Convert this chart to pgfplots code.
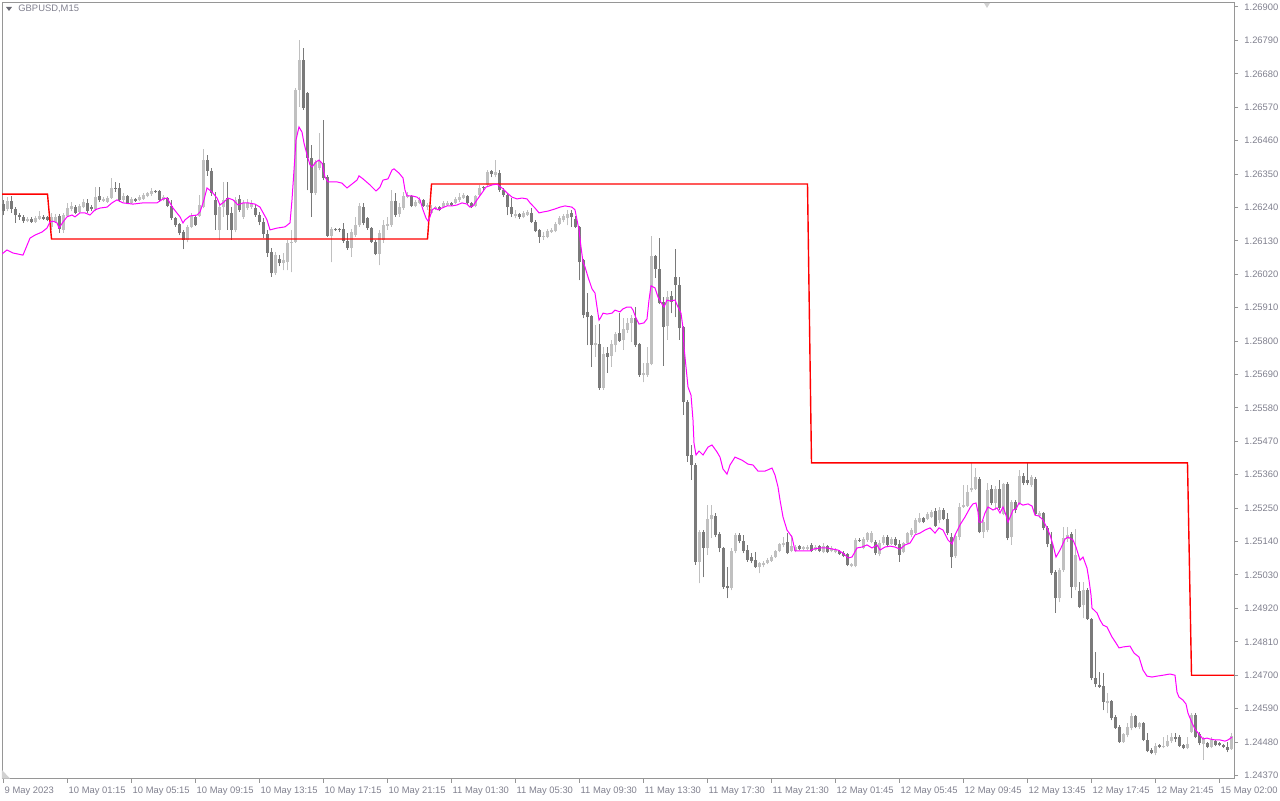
\documentclass[border=0pt]{standalone}
\usepackage{fontspec}
\setmainfont{Liberation Sans}
\usepackage{pgfplots}
\usepackage{pgfplotstable}
\pgfplotsset{compat=1.18}
\definecolor{bullc}{RGB}{192,192,192}
\definecolor{bearc}{RGB}{122,122,122}
\definecolor{axisc}{RGB}{150,150,150}
\definecolor{labc}{RGB}{128,128,142}
\definecolor{magc}{RGB}{255,0,255}
\definecolor{redc}{RGB}{255,0,0}
\definecolor{tric}{RGB}{105,105,115}
\pgfplotsset{candle/.style={only marks, mark size=0pt, mark options={draw=none, fill=none}, forget plot}}
\pgfplotstableread{
i o h l c
0 1.26251 1.26265 1.26215 1.26228
1 1.26235 1.26274 1.26228 1.26261
2 1.26261 1.26278 1.26222 1.26235
3 1.26235 1.26241 1.26189 1.26215
4 1.26215 1.26222 1.26199 1.26209
5 1.26209 1.26215 1.26189 1.26195
6 1.26195 1.26209 1.26192 1.26202
7 1.26202 1.26209 1.26189 1.26192
8 1.26192 1.26212 1.26189 1.26205
9 1.26202 1.26228 1.26199 1.26212
10 1.26209 1.26215 1.26199 1.26202
11 1.26209 1.26212 1.26195 1.26199
12 1.26176 1.26222 1.26166 1.26209
13 1.26192 1.26218 1.26189 1.26209
14 1.26212 1.26218 1.26156 1.26169
15 1.26166 1.26222 1.26156 1.26215
16 1.26212 1.26255 1.26209 1.26238
17 1.26235 1.26258 1.26228 1.26245
18 1.26241 1.26248 1.26218 1.26222
19 1.26225 1.26251 1.26222 1.26245
20 1.26241 1.26268 1.26238 1.26258
21 1.26255 1.26268 1.26222 1.26228
22 1.26241 1.26248 1.26228 1.26235
23 1.26235 1.26307 1.26228 1.26274
24 1.26278 1.26307 1.26258 1.26265
25 1.26261 1.26274 1.26258 1.26268
26 1.26258 1.26278 1.26255 1.26271
27 1.26271 1.26337 1.26268 1.26304
28 1.26304 1.26324 1.26291 1.26301
29 1.26304 1.26320 1.26258 1.26265
30 1.26265 1.26288 1.26258 1.26278
31 1.26278 1.26281 1.26251 1.26255
32 1.26255 1.26274 1.26251 1.26268
33 1.26268 1.26271 1.26258 1.26261
34 1.26265 1.26281 1.26261 1.26274
35 1.26268 1.26288 1.26265 1.26281
36 1.26278 1.26291 1.26274 1.26288
37 1.26284 1.26304 1.26278 1.26294
38 1.26294 1.26297 1.26288 1.26291
39 1.26294 1.26297 1.26258 1.26265
40 1.26265 1.26281 1.26261 1.26274
41 1.26271 1.26274 1.26241 1.26245
42 1.26245 1.26265 1.26199 1.26205
43 1.26205 1.26209 1.26176 1.26182
44 1.26185 1.26189 1.26149 1.26156
45 1.26159 1.26166 1.26103 1.26133
46 1.26133 1.26182 1.26126 1.26176
47 1.26176 1.26222 1.26172 1.26212
48 1.26209 1.26215 1.26179 1.26182
49 1.26212 1.26281 1.26209 1.26248
50 1.26241 1.26432 1.26238 1.26396
51 1.26396 1.26413 1.26344 1.26360
52 1.26360 1.26370 1.26278 1.26288
53 1.26265 1.26291 1.26166 1.26215
54 1.26166 1.26255 1.26133 1.26241
55 1.26241 1.26324 1.26209 1.26265
56 1.26271 1.26324 1.26166 1.26215
57 1.26222 1.26241 1.26133 1.26166
58 1.26166 1.26274 1.26159 1.26265
59 1.26268 1.26281 1.26225 1.26232
60 1.26209 1.26265 1.26202 1.26255
61 1.26238 1.26268 1.26232 1.26255
62 1.26241 1.26265 1.26235 1.26251
63 1.26238 1.26251 1.26209 1.26215
64 1.26215 1.26225 1.26182 1.26192
65 1.26192 1.26205 1.26139 1.26153
66 1.26153 1.26166 1.26077 1.26090
67 1.26093 1.26106 1.26011 1.26024
68 1.26024 1.26093 1.26018 1.26083
69 1.26070 1.26083 1.26047 1.26057
70 1.26057 1.26090 1.26034 1.26067
71 1.26060 1.26133 1.26034 1.26123
72 1.26123 1.26166 1.26027 1.26126
73 1.26126 1.26633 1.26123 1.26627
74 1.26627 1.26791 1.26571 1.26725
75 1.26725 1.26765 1.26561 1.26567
76 1.26617 1.26620 1.26297 1.26403
77 1.26403 1.26446 1.26209 1.26288
78 1.26288 1.26396 1.26281 1.26390
79 1.26370 1.26485 1.26363 1.26393
80 1.26386 1.26528 1.26330 1.26337
81 1.26340 1.26347 1.26143 1.26146
82 1.26146 1.26176 1.26060 1.26169
83 1.26169 1.26172 1.26162 1.26166
84 1.26169 1.26172 1.26159 1.26166
85 1.26169 1.26189 1.26123 1.26130
86 1.26130 1.26156 1.26100 1.26106
87 1.26106 1.26169 1.26077 1.26159
88 1.26149 1.26209 1.26143 1.26182
89 1.26182 1.26255 1.26176 1.26245
90 1.26241 1.26255 1.26182 1.26189
91 1.26205 1.26209 1.26166 1.26172
92 1.26172 1.26176 1.26123 1.26126
93 1.26126 1.26133 1.26083 1.26087
94 1.26087 1.26166 1.26050 1.26156
95 1.26133 1.26199 1.26123 1.26182
96 1.26179 1.26209 1.26166 1.26185
97 1.26182 1.26297 1.26176 1.26261
98 1.26261 1.26288 1.26209 1.26215
99 1.26218 1.26255 1.26209 1.26241
100 1.26238 1.26291 1.26232 1.26278
101 1.26274 1.26291 1.26271 1.26281
102 1.26278 1.26281 1.26241 1.26245
103 1.26245 1.26265 1.26241 1.26258
104 1.26255 1.26274 1.26251 1.26265
105 1.26265 1.26268 1.26241 1.26245
106 1.26241 1.26255 1.26232 1.26248
107 1.26222 1.26248 1.26218 1.26235
108 1.26235 1.26245 1.26232 1.26241
109 1.26241 1.26245 1.26228 1.26232
110 1.26241 1.26261 1.26238 1.26255
111 1.26248 1.26261 1.26245 1.26255
112 1.26255 1.26258 1.26245 1.26248
113 1.26255 1.26274 1.26251 1.26268
114 1.26265 1.26288 1.26258 1.26274
115 1.26271 1.26288 1.26268 1.26281
116 1.26278 1.26281 1.26251 1.26255
117 1.26255 1.26258 1.26238 1.26241
118 1.26245 1.26281 1.26241 1.26278
119 1.26281 1.26314 1.26274 1.26304
120 1.26307 1.26311 1.26297 1.26304
121 1.26314 1.26363 1.26307 1.26357
122 1.26360 1.26363 1.26340 1.26350
123 1.26347 1.26396 1.26340 1.26357
124 1.26353 1.26363 1.26291 1.26297
125 1.26297 1.26304 1.26274 1.26281
126 1.26281 1.26288 1.26215 1.26241
127 1.26241 1.26271 1.26209 1.26218
128 1.26212 1.26232 1.26205 1.26218
129 1.26218 1.26222 1.26202 1.26209
130 1.26209 1.26228 1.26205 1.26222
131 1.26215 1.26232 1.26212 1.26225
132 1.26222 1.26238 1.26189 1.26192
133 1.26192 1.26199 1.26159 1.26162
134 1.26166 1.26169 1.26123 1.26143
135 1.26143 1.26159 1.26133 1.26146
136 1.26143 1.26169 1.26139 1.26162
137 1.26159 1.26172 1.26156 1.26166
138 1.26162 1.26192 1.26159 1.26185
139 1.26185 1.26212 1.26182 1.26205
140 1.26199 1.26218 1.26192 1.26212
141 1.26205 1.26232 1.26182 1.26218
142 1.26222 1.26232 1.26176 1.26209
143 1.26202 1.26212 1.26172 1.26176
144 1.26176 1.26179 1.26001 1.26060
145 1.26067 1.26070 1.25876 1.25886
146 1.25896 1.25958 1.25787 1.25879
147 1.25883 1.25886 1.25715 1.25787
148 1.25787 1.25853 1.25748 1.25794
149 1.25790 1.25856 1.25639 1.25646
150 1.25646 1.25781 1.25639 1.25757
151 1.25761 1.25781 1.25695 1.25748
152 1.25751 1.25804 1.25715 1.25790
153 1.25787 1.25830 1.25764 1.25823
154 1.25827 1.25892 1.25797 1.25800
155 1.25804 1.25876 1.25771 1.25840
156 1.25837 1.25876 1.25827 1.25860
157 1.25860 1.25886 1.25797 1.25876
158 1.25876 1.25912 1.25781 1.25787
159 1.25790 1.25794 1.25682 1.25688
160 1.25688 1.25728 1.25665 1.25695
161 1.25688 1.25781 1.25682 1.25728
162 1.25724 1.26146 1.25721 1.26080
163 1.26080 1.26083 1.26008 1.26037
164 1.26037 1.26139 1.25922 1.25925
165 1.25929 1.25945 1.25718 1.25846
166 1.25850 1.25965 1.25804 1.25945
167 1.25948 1.25965 1.25892 1.25929
168 1.26011 1.26103 1.25879 1.25985
169 1.25985 1.26011 1.25804 1.25843
170 1.25846 1.25850 1.25557 1.25599
171 1.25599 1.25606 1.25402 1.25422
172 1.25425 1.25458 1.25343 1.25392
173 1.25392 1.25399 1.25063 1.25073
174 1.25073 1.25178 1.25003 1.25171
175 1.25171 1.25178 1.25023 1.25119
176 1.25119 1.25260 1.25096 1.25214
177 1.25214 1.25260 1.25152 1.25227
178 1.25224 1.25234 1.25155 1.25162
179 1.25165 1.25171 1.25105 1.25119
180 1.25119 1.25122 1.24984 1.24990
181 1.24994 1.25056 1.24954 1.24987
182 1.24987 1.25119 1.24980 1.25109
183 1.25109 1.25168 1.25102 1.25162
184 1.25162 1.25168 1.25135 1.25142
185 1.25142 1.25162 1.25102 1.25109
186 1.25112 1.25129 1.25073 1.25079
187 1.25089 1.25102 1.25069 1.25076
188 1.25079 1.25105 1.25053 1.25056
189 1.25056 1.25073 1.25036 1.25069
190 1.25063 1.25076 1.25056 1.25069
191 1.25069 1.25086 1.25066 1.25079
192 1.25076 1.25096 1.25073 1.25089
193 1.25089 1.25112 1.25086 1.25109
194 1.25109 1.25135 1.25105 1.25132
195 1.25129 1.25155 1.25122 1.25135
196 1.25139 1.25168 1.25099 1.25102
197 1.25109 1.25162 1.25105 1.25125
198 1.25109 1.25129 1.25105 1.25122
199 1.25125 1.25129 1.25112 1.25115
200 1.25115 1.25125 1.25112 1.25122
201 1.25115 1.25129 1.25112 1.25122
202 1.25129 1.25135 1.25105 1.25109
203 1.25112 1.25129 1.25109 1.25122
204 1.25125 1.25129 1.25105 1.25109
205 1.25105 1.25135 1.25102 1.25125
206 1.25125 1.25129 1.25102 1.25105
207 1.25109 1.25125 1.25105 1.25119
208 1.25105 1.25119 1.25102 1.25112
209 1.25109 1.25112 1.25096 1.25099
210 1.25102 1.25109 1.25089 1.25092
211 1.25099 1.25102 1.25059 1.25063
212 1.25059 1.25069 1.25056 1.25066
213 1.25059 1.25152 1.25056 1.25145
214 1.25145 1.25152 1.25139 1.25142
215 1.25119 1.25155 1.25115 1.25148
216 1.25145 1.25171 1.25139 1.25168
217 1.25139 1.25175 1.25135 1.25168
218 1.25139 1.25145 1.25096 1.25102
219 1.25099 1.25145 1.25092 1.25135
220 1.25135 1.25162 1.25129 1.25155
221 1.25155 1.25162 1.25122 1.25129
222 1.25132 1.25155 1.25129 1.25148
223 1.25148 1.25155 1.25125 1.25129
224 1.25132 1.25145 1.25073 1.25096
225 1.25105 1.25139 1.25102 1.25135
226 1.25135 1.25171 1.25132 1.25168
227 1.25162 1.25185 1.25155 1.25178
228 1.25168 1.25217 1.25165 1.25211
229 1.25204 1.25234 1.25201 1.25217
230 1.25217 1.25221 1.25201 1.25204
231 1.25214 1.25237 1.25211 1.25231
232 1.25221 1.25244 1.25217 1.25237
233 1.25240 1.25251 1.25188 1.25191
234 1.25211 1.25254 1.25201 1.25244
235 1.25244 1.25251 1.25211 1.25214
236 1.25214 1.25234 1.25162 1.25168
237 1.25155 1.25168 1.25053 1.25089
238 1.25092 1.25168 1.25086 1.25158
239 1.25155 1.25267 1.25145 1.25254
240 1.25254 1.25326 1.25251 1.25260
241 1.25257 1.25326 1.25254 1.25303
242 1.25310 1.25399 1.25303 1.25316
243 1.25313 1.25382 1.25310 1.25352
244 1.25346 1.25352 1.25168 1.25171
245 1.25171 1.25211 1.25152 1.25204
246 1.25178 1.25333 1.25171 1.25310
247 1.25313 1.25326 1.25260 1.25267
248 1.25267 1.25323 1.25244 1.25313
249 1.25313 1.25343 1.25244 1.25251
250 1.25231 1.25333 1.25227 1.25329
251 1.25329 1.25336 1.25145 1.25152
252 1.25155 1.25277 1.25129 1.25270
253 1.25270 1.25277 1.25234 1.25244
254 1.25267 1.25375 1.25260 1.25356
255 1.25356 1.25366 1.25326 1.25333
256 1.25343 1.25399 1.25326 1.25333
257 1.25326 1.25359 1.25320 1.25352
258 1.25346 1.25352 1.25227 1.25231
259 1.25224 1.25240 1.25217 1.25234
260 1.25234 1.25237 1.25178 1.25185
261 1.25185 1.25191 1.25122 1.25132
262 1.25132 1.25171 1.25030 1.25036
263 1.25040 1.25046 1.24905 1.24954
264 1.24954 1.25053 1.24941 1.25046
265 1.25046 1.25188 1.25040 1.25152
266 1.25148 1.25188 1.25139 1.25162
267 1.25165 1.25171 1.24954 1.24990
268 1.24990 1.25181 1.24980 1.25096
269 1.24977 1.25007 1.24921 1.24925
270 1.24931 1.25007 1.24888 1.24980
271 1.24980 1.24987 1.24882 1.24885
272 1.24885 1.24888 1.24684 1.24691
273 1.24691 1.24776 1.24661 1.24671
274 1.24668 1.24710 1.24658 1.24661
275 1.24664 1.24707 1.24585 1.24612
276 1.24608 1.24641 1.24575 1.24615
277 1.24615 1.24618 1.24552 1.24559
278 1.24562 1.24569 1.24523 1.24526
279 1.24529 1.24536 1.24477 1.24480
280 1.24480 1.24510 1.24477 1.24506
281 1.24503 1.24543 1.24496 1.24529
282 1.24526 1.24575 1.24519 1.24566
283 1.24566 1.24569 1.24526 1.24529
284 1.24529 1.24546 1.24523 1.24543
285 1.24543 1.24546 1.24483 1.24487
286 1.24487 1.24510 1.24447 1.24450
287 1.24454 1.24460 1.24440 1.24444
288 1.24444 1.24477 1.24437 1.24467
289 1.24470 1.24473 1.24460 1.24464
290 1.24464 1.24496 1.24460 1.24467
291 1.24467 1.24503 1.24464 1.24483
292 1.24483 1.24510 1.24477 1.24496
293 1.24496 1.24510 1.24480 1.24490
294 1.24496 1.24503 1.24464 1.24467
295 1.24470 1.24473 1.24457 1.24460
296 1.24460 1.24496 1.24457 1.24473
297 1.24513 1.24575 1.24510 1.24569
298 1.24569 1.24575 1.24493 1.24496
299 1.24506 1.24513 1.24470 1.24477
300 1.24473 1.24496 1.24421 1.24490
301 1.24477 1.24480 1.24460 1.24464
302 1.24464 1.24496 1.24460 1.24487
303 1.24483 1.24487 1.24467 1.24470
304 1.24477 1.24480 1.24467 1.24470
305 1.24470 1.24473 1.24460 1.24464
306 1.24464 1.24480 1.24447 1.24454
307 1.24457 1.24510 1.24454 1.24500
}\candles
\pgfplotstableread{
i p
-0.375 1.26087
0.875 1.26100
2.375 1.26090
4.875 1.26083
6.625 1.26139
7.875 1.26149
9.625 1.26159
10.875 1.26172
11.625 1.26192
12.375 1.26195
13.375 1.26189
13.875 1.26172
14.875 1.26192
15.875 1.26209
17.125 1.26215
17.875 1.26209
19.125 1.26222
20.375 1.26222
21.625 1.26215
22.875 1.26232
24.125 1.26238
25.875 1.26241
27.125 1.26255
28.375 1.26265
29.875 1.26255
32.375 1.26251
34.875 1.26255
38.375 1.26255
39.875 1.26268
40.875 1.26271
42.375 1.26238
44.125 1.26209
44.875 1.26189
45.375 1.26199
46.625 1.26212
48.375 1.26215
49.125 1.26225
50.125 1.26265
50.875 1.26304
52.125 1.26291
53.375 1.26271
54.125 1.26248
55.125 1.26258
56.125 1.26271
57.375 1.26265
58.625 1.26248
59.875 1.26255
61.125 1.26255
62.875 1.26251
64.125 1.26241
65.875 1.26199
66.625 1.26166
68.375 1.26172
70.375 1.26176
71.625 1.26189
72.125 1.26265
72.625 1.26363
73.125 1.26462
73.875 1.26505
74.625 1.26488
75.125 1.26452
75.875 1.26413
76.625 1.26380
77.125 1.26373
78.125 1.26390
78.875 1.26396
79.625 1.26386
80.375 1.26340
81.125 1.26324
83.375 1.26324
84.625 1.26320
85.875 1.26304
87.125 1.26317
88.375 1.26330
88.875 1.26344
89.875 1.26334
91.625 1.26314
93.125 1.26294
94.125 1.26307
94.875 1.26330
96.125 1.26334
97.125 1.26363
97.625 1.26367
98.875 1.26353
99.875 1.26337
100.375 1.26297
100.875 1.26278
102.125 1.26278
103.375 1.26274
104.125 1.26265
104.875 1.26232
105.625 1.26205
106.125 1.26195
106.625 1.26209
107.125 1.26232
107.875 1.26238
108.625 1.26232
109.625 1.26238
110.875 1.26245
112.125 1.26245
113.375 1.26248
114.625 1.26255
115.875 1.26251
116.625 1.26241
117.375 1.26245
118.375 1.26265
119.625 1.26288
120.625 1.26307
122.125 1.26314
123.375 1.26317
124.625 1.26304
125.875 1.26288
127.125 1.26274
128.375 1.26268
129.625 1.26271
130.875 1.26268
131.625 1.26255
132.875 1.26238
133.875 1.26222
134.875 1.26225
136.125 1.26228
137.875 1.26235
139.125 1.26241
140.375 1.26245
142.125 1.26241
142.875 1.26232
143.375 1.26199
143.875 1.26166
144.375 1.26110
144.875 1.26060
145.375 1.26044
146.125 1.26011
147.125 1.25972
147.875 1.25958
148.375 1.25912
148.875 1.25869
149.375 1.25879
149.875 1.25892
150.875 1.25889
152.125 1.25892
152.875 1.25902
154.125 1.25896
154.875 1.25906
155.875 1.25912
156.875 1.25912
157.375 1.25902
158.125 1.25876
158.875 1.25856
160.125 1.25860
160.875 1.25873
161.375 1.25935
161.875 1.25982
162.875 1.25975
163.625 1.25945
164.625 1.25922
165.125 1.25912
165.875 1.25935
166.625 1.25932
167.875 1.25935
168.625 1.25912
169.375 1.25892
169.875 1.25843
170.125 1.25781
170.625 1.25715
171.125 1.25649
171.875 1.25622
172.375 1.25540
172.625 1.25464
173.125 1.25425
173.875 1.25438
174.875 1.25425
176.125 1.25451
177.125 1.25458
178.375 1.25435
179.125 1.25418
179.875 1.25379
180.875 1.25362
181.625 1.25392
182.875 1.25418
184.625 1.25408
186.125 1.25395
187.375 1.25392
188.625 1.25372
190.375 1.25372
192.125 1.25382
192.875 1.25359
193.625 1.25320
194.125 1.25277
194.875 1.25221
195.875 1.25178
197.125 1.25155
197.875 1.25109
199.875 1.25109
201.625 1.25109
202.375 1.25115
204.125 1.25119
205.875 1.25119
207.375 1.25115
208.625 1.25112
209.875 1.25102
211.125 1.25086
212.125 1.25089
213.375 1.25119
214.625 1.25122
215.875 1.25129
217.125 1.25119
218.375 1.25129
219.125 1.25112
220.375 1.25122
221.625 1.25125
222.875 1.25122
224.125 1.25115
225.375 1.25129
226.625 1.25135
227.875 1.25162
229.125 1.25168
230.375 1.25178
231.625 1.25185
232.875 1.25168
233.875 1.25185
234.875 1.25178
236.125 1.25145
237.125 1.25132
237.875 1.25162
239.125 1.25195
240.375 1.25221
241.625 1.25251
242.375 1.25264
243.125 1.25267
243.625 1.25237
243.875 1.25204
244.625 1.25204
245.375 1.25234
246.125 1.25254
247.375 1.25244
248.375 1.25251
249.125 1.25234
249.875 1.25254
250.625 1.25227
251.125 1.25204
251.875 1.25227
252.375 1.25244
253.125 1.25247
253.875 1.25267
254.875 1.25260
256.125 1.25264
257.125 1.25257
257.875 1.25227
258.875 1.25224
259.875 1.25211
260.875 1.25185
261.625 1.25162
262.375 1.25129
263.125 1.25089
264.125 1.25112
265.375 1.25148
266.125 1.25155
267.375 1.25145
268.125 1.25122
269.125 1.25079
269.875 1.25089
270.875 1.25053
271.375 1.25013
271.875 1.24964
272.125 1.24921
273.375 1.24905
274.125 1.24882
274.875 1.24865
275.875 1.24859
277.125 1.24826
278.125 1.24806
278.875 1.24790
279.875 1.24793
281.625 1.24796
282.625 1.24773
283.875 1.24760
284.875 1.24717
285.875 1.24697
287.125 1.24694
288.375 1.24697
289.875 1.24700
291.625 1.24704
292.875 1.24700
293.375 1.24644
293.875 1.24628
294.875 1.24618
295.625 1.24605
296.125 1.24575
297.125 1.24543
297.875 1.24523
298.625 1.24510
299.875 1.24490
300.875 1.24493
301.625 1.24490
302.875 1.24487
304.125 1.24487
305.375 1.24483
306.125 1.24487
307.125 1.24496
}\maline
\begin{document}
\begin{tikzpicture}
\path[use as bounding box] (-1pt,-10.75pt) rectangle (639pt,389.25pt);
\begin{axis}[
  at={(0,0)}, anchor=south west,
  scale only axis, width=616pt, height=387.75pt,
  xmin=-0.375, xmax=307.625,
  ymin=1.2436, ymax=1.26913,
  axis line style={draw=axisc, line width=0.5pt},
  xtick pos=bottom, ytick pos=right,
  xticklabel pos=bottom, yticklabel pos=right,
  tick align=outside, major tick length=2pt,
  tick style={draw=axisc, line width=0.5pt},
  scaled y ticks=false,
  xtick={0,16,32,48,64,80,96,112,128,144,160,176,192,208,224,240,256,272,288,304},
  xticklabels={9 May 2023,10 May 01:15,10 May 05:15,10 May 09:15,10 May 13:15,10 May 17:15,10 May 21:15,11 May 01:30,11 May 05:30,11 May 09:30,11 May 13:30,11 May 17:30,11 May 21:30,12 May 01:45,12 May 05:45,12 May 09:45,12 May 13:45,12 May 17:45,12 May 21:45,15 May 02:00},
  ytick={1.2437,1.2448,1.2459,1.2470,1.2481,1.2492,1.2503,1.2514,1.2525,1.2536,1.2547,1.2558,1.2569,1.2580,1.2591,1.2602,1.2613,1.2624,1.2635,1.2646,1.2657,1.2668,1.2679,1.2690},
  yticklabels={1.24370,1.24480,1.24590,1.24700,1.24810,1.24920,1.25030,1.25140,1.25250,1.25360,1.25470,1.25580,1.25690,1.25800,1.25910,1.26020,1.26130,1.26240,1.26350,1.26460,1.26570,1.26680,1.26790,1.26900},
  every tick label/.append style={font=\fontsize{4.7}{5.6}\selectfont, text=labc, inner sep=0pt},
  yticklabel style={anchor=west, xshift=3pt},
  xticklabel style={anchor=north west, yshift=-2.25pt, xshift=0.4pt},
]
% bull wicks and bodies
\addplot[candle,
  restrict expr to domain={\thisrow{c}-\thisrow{o}}{0:1},
  error bars/.cd, y dir=plus, y explicit, error mark=none,
  error bar style={line width=0.5pt, color=bullc}]
  table[x=i, y=l, y error expr=\thisrow{h}-\thisrow{l}] {\candles};
\addplot[candle,
  restrict expr to domain={\thisrow{c}-\thisrow{o}}{0:1},
  error bars/.cd, y dir=plus, y explicit, error mark=none,
  error bar style={line width=1.5pt, line cap=butt, color=bullc}]
  table[x=i, y=o, y error expr=\thisrow{c}-\thisrow{o}] {\candles};
% bear wicks and bodies
\addplot[candle,
  restrict expr to domain={\thisrow{c}-\thisrow{o}}{-1:0},
  error bars/.cd, y dir=plus, y explicit, error mark=none,
  error bar style={line width=0.5pt, color=bearc}]
  table[x=i, y=l, y error expr=\thisrow{h}-\thisrow{l}] {\candles};
\addplot[candle,
  restrict expr to domain={\thisrow{c}-\thisrow{o}}{-1:0},
  error bars/.cd, y dir=plus, y explicit, error mark=none,
  error bar style={line width=1.5pt, line cap=butt, color=bearc}]
  table[x=i, y=c, y error expr=\thisrow{o}-\thisrow{c}] {\candles};
% red level line
\addplot[redc, line width=0.7pt, mark=none] coordinates {
  (-1,1.26284) (11,1.26284) (12,1.26136) (106,1.26136) (107,1.26317) (201,1.26317)
  (202,1.25399) (296,1.25399) (297,1.24700) (307,1.24700) (308,1.24700)};
% magenta average
\addplot[magc, line width=0.5pt, mark=none] table[x=i, y=p] {\maline};
\end{axis}
% chart caption and markers
\fill[tric] (2pt,385.75pt) -- (5pt,385.75pt) -- (3.5pt,383.75pt) -- cycle;
\node[anchor=west, inner sep=0pt, text=labc, font=\fontsize{4.7}{5.6}\selectfont] at (8pt,384.75pt) {GBPUSD,M15};
\fill[black!18] (491pt,387.75pt) -- (494pt,387.75pt) -- (492.5pt,385.25pt) -- cycle;
\fill[black!18] (0pt,4.25pt) -- (0pt,0pt) -- (4pt,0pt) -- cycle;
\end{tikzpicture}
\end{document}
